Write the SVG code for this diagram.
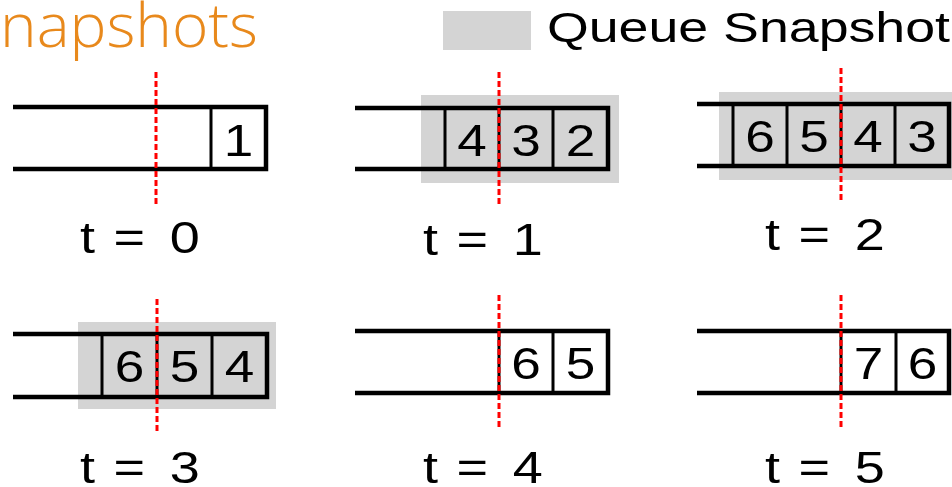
<svg xmlns="http://www.w3.org/2000/svg" width="952" height="487" viewBox="0 0 952 487">
  <style>
    .title { font-family: "Open Sans", "Liberation Sans", sans-serif; font-weight: 300; font-size: 60px; fill: #E8891C; }
    .legend { font-family: "Liberation Sans", Arial, sans-serif; font-size: 43px; fill: #000; }
    .snap { fill: #D4D4D4; }
    .rail { stroke: #000; stroke-width: 4.5; fill: none; stroke-linecap: butt; }
    .div { stroke: #000; stroke-width: 3; fill: none; }
    .cut { stroke: #FF0000; stroke-width: 3; stroke-dasharray: 6 3; fill: none; }
    .num { font-family: "Liberation Sans", Arial, sans-serif; font-size: 45px; fill: #000; text-anchor: middle; }
    .lbl { font-family: "Liberation Sans", Arial, sans-serif; font-size: 45px; fill: #000; letter-spacing: 1.5px; }
  </style>

  <!-- heading, clipped at the left edge -->
  <text class="title" x="0" y="47" textLength="258" lengthAdjust="spacingAndGlyphs">napshots</text>

  <!-- legend -->
  <g id="legend">
    <rect class="snap" x="443" y="11" width="88" height="39"/>
    <text class="legend" x="547" y="42" textLength="403" lengthAdjust="spacingAndGlyphs">Queue Snapshot</text>
  </g>

  <!-- t = 0 -->
  <g id="queue-t0">
    <path class="rail" d="M13 107 H266 V169 H13"/>
    <path class="div" d="M211 107 V169"/>
    <text class="num" transform="translate(238.5 156) scale(1.18 1)">1</text>
    <text class="lbl" transform="translate(80 253) scale(1.2 1)">t = <tspan dx="5">0</tspan></text>
  </g>

  <!-- t = 1 -->
  <g id="queue-t1">
    <rect class="snap" x="421" y="95" width="198" height="88"/>
    <path class="rail" d="M355 108 H608 V169 H355"/>
    <path class="div" d="M445 108 V169 M499 108 V169 M553 108 V169"/>
    <text class="num" transform="translate(472 156) scale(1.18 1)">4</text>
    <text class="num" transform="translate(526 156) scale(1.18 1)">3</text>
    <text class="num" transform="translate(580.5 156) scale(1.18 1)">2</text>
    <text class="lbl" transform="translate(423 255) scale(1.2 1)">t = <tspan dx="5">1</tspan></text>
  </g>

  <!-- t = 2 -->
  <g id="queue-t2">
    <rect class="snap" x="719" y="92" width="233" height="88"/>
    <path class="rail" d="M697 104 H949 V166 H697"/>
    <path class="div" d="M733 104 V166 M787 104 V166 M841 104 V166 M895 104 V166"/>
    <text class="num" transform="translate(760 152) scale(1.18 1)">6</text>
    <text class="num" transform="translate(814 152) scale(1.18 1)">5</text>
    <text class="num" transform="translate(868 152) scale(1.18 1)">4</text>
    <text class="num" transform="translate(922 152) scale(1.18 1)">3</text>
    <text class="lbl" transform="translate(765 250) scale(1.2 1)">t = <tspan dx="5">2</tspan></text>
  </g>

  <!-- t = 3 -->
  <g id="queue-t3">
    <rect class="snap" x="78" y="322" width="198" height="87"/>
    <path class="rail" d="M13 334 H267 V397 H13"/>
    <path class="div" d="M102 334 V397 M157 334 V397 M212 334 V397"/>
    <text class="num" transform="translate(129.5 382) scale(1.18 1)">6</text>
    <text class="num" transform="translate(184.5 382) scale(1.18 1)">5</text>
    <text class="num" transform="translate(239.5 382) scale(1.18 1)">4</text>
    <text class="lbl" transform="translate(80 483) scale(1.2 1)">t = <tspan dx="5">3</tspan></text>
  </g>

  <!-- t = 4 -->
  <g id="queue-t4">
    <path class="rail" d="M355 331 H608 V393 H355"/>
    <path class="div" d="M499 331 V393 M553 331 V393"/>
    <text class="num" transform="translate(526 379) scale(1.18 1)">6</text>
    <text class="num" transform="translate(580.5 379) scale(1.18 1)">5</text>
    <text class="lbl" transform="translate(423 483) scale(1.2 1)">t = <tspan dx="5">4</tspan></text>
  </g>

  <!-- t = 5 -->
  <g id="queue-t5">
    <path class="rail" d="M697 331 H949 V393 H697"/>
    <path class="div" d="M841 331 V393 M896 331 V393"/>
    <text class="num" transform="translate(868.5 379) scale(1.18 1)">7</text>
    <text class="num" transform="translate(922.5 379) scale(1.18 1)">6</text>
    <text class="lbl" transform="translate(765 483) scale(1.2 1)">t = <tspan dx="5">5</tspan></text>
  </g>

  <!-- snapshot cut lines -->
  <g id="connectors">
    <path class="cut" d="M156 72 V205"/>
    <path class="cut" d="M499 72 V207"/>
    <path class="cut" d="M841 68 V202"/>
    <path class="cut" d="M157 299 V433"/>
    <path class="cut" d="M499 295 V428"/>
    <path class="cut" d="M841 295 V428"/>
  </g>
</svg>
